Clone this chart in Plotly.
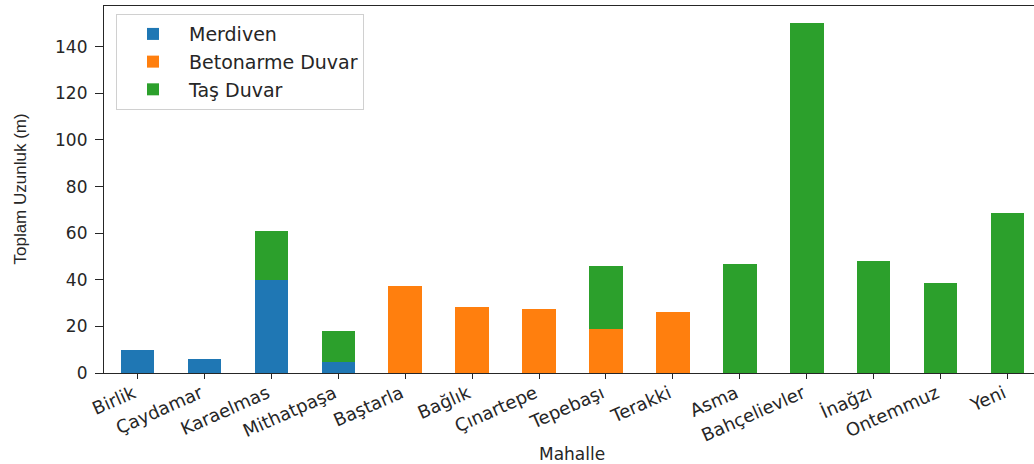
import plotly.graph_objects as go

categories = ["Birlik", "Çaydamar", "Karaelmas", "Mithatpaşa", "Baştarla", "Bağlık",
              "Çınartepe", "Tepebaşı", "Terakki", "Asma", "Bahçelievler", "İnağzı",
              "Ontemmuz", "Yeni"]
merdiven = [9.7, 5.8, 39.8, 4.7, 0, 0, 0, 0, 0, 0, 0, 0, 0, 0]
betonarme_duvar = [0, 0, 0, 0, 37.4, 28.2, 27.6, 18.8, 26.3, 0, 0, 0, 0, 0]
tas_duvar = [0, 0, 21.0, 13.5, 0, 0, 0, 27.3, 0, 46.7, 150.0, 48.2, 38.5, 68.7]

series_names = ["Merdiven", "Betonarme Duvar", "Taş Duvar"]
series_values = [merdiven, betonarme_duvar, tas_duvar]
colors = ["#1f77b4", "#ff7f0e", "#2ca02c"]

FONT = "DejaVu Sans"

fig = go.Figure()
for name, vals, col in zip(series_names, series_values, colors):
    fig.add_trace(go.Bar(x=categories, y=vals, name=name, marker_color=col,
                         marker_line_width=0, width=0.5))

fig.update_layout(
    width=1034, height=464,
    barmode="stack",
    plot_bgcolor="white", paper_bgcolor="white",
    margin=dict(l=104, r=0, t=6, b=91, autoexpand=False),
    font=dict(family=FONT, size=16, color="#262626"),
    showlegend=True,
    legend=dict(x=0.0129, y=0.978, xanchor="left", yanchor="top",
                traceorder="normal",
                bgcolor="white", bordercolor="#d0d0d0", borderwidth=1,
                font=dict(family=FONT, size=19, color="#262626"),
                itemwidth=62, tracegroupgap=0),
)

fig.update_xaxes(
    range=[-0.5, 13.395], showgrid=False, zeroline=False, automargin=False,
    showline=True, linecolor="#262626", linewidth=1.2, mirror=True,
    ticks="outside", ticklen=5, tickcolor="#262626", tickwidth=1.2,
    tickangle=-24, ticklabelstandoff=-3, ticklabelshift=-4,
    tickfont=dict(family=FONT, size=18, color="#262626"),
)
fig.update_yaxes(
    range=[0, 157.5], dtick=20, showgrid=False, zeroline=False, automargin=False,
    showline=True, linecolor="#262626", linewidth=1.2,
    ticks="outside", ticklen=8, tickcolor="#262626", tickwidth=1.2,
    ticklabelstandoff=4,
    tickfont=dict(family=FONT, size=17, color="#262626"),
)

fig.add_annotation(text="Mahalle", xref="paper", yref="paper", x=0.503, y=-0.22,
                   xanchor="center", yanchor="middle", showarrow=False,
                   font=dict(family=FONT, size=17, color="#262626"))
fig.add_annotation(text="Toplam Uzunluk (m)", xref="paper", yref="paper", x=-0.0903, y=0.5,
                   xanchor="center", yanchor="middle", textangle=-90, showarrow=False,
                   font=dict(family="Liberation Sans Narrow, Liberation Sans, sans-serif",
                             size=17, color="#262626"))

fig.write_html("out.html", config={"displayModeBar": False},
               post_script="document.body.style.margin='0';")
